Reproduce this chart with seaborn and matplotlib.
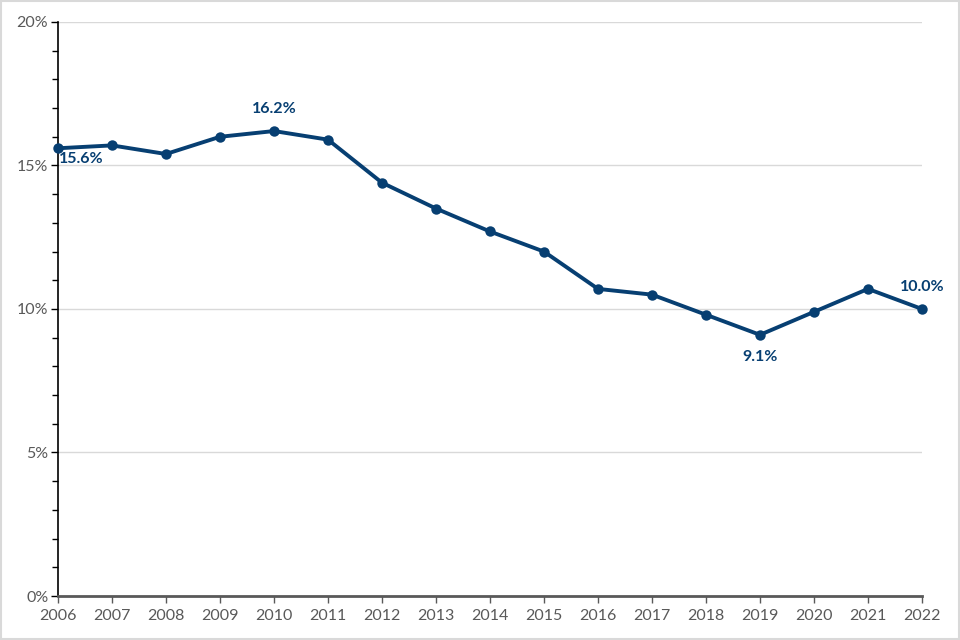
import matplotlib
matplotlib.use("Agg")
import matplotlib.pyplot as plt
import pandas as pd
import seaborn as sns
from matplotlib.patches import Rectangle
from matplotlib.ticker import FuncFormatter, MultipleLocator

years = list(range(2006, 2023))
rates = [15.6, 15.7, 15.4, 16.0, 16.2, 15.9, 14.4, 13.5, 12.7, 12.0,
         10.7, 10.5, 9.8, 9.1, 9.9, 10.7, 10.0]
# (year, text, dx points, dy points, ha, va)
labels = [
    (2006, "15.6%", 1, -8, "left", "center"),
    (2010, "16.2%", 0, 11, "center", "bottom"),
    (2019, "9.1%", 0, -11, "center", "top"),
    (2022, "10.0%", 0, 11, "center", "bottom"),
]

line_color = "#073f72"
text_grey = "#595959"

sns.set_theme(style="white")
plt.rcParams["font.family"] = ["Lato", "DejaVu Sans"]

df = pd.DataFrame({"year": years, "rate": rates})

fig = plt.figure(figsize=(9.6, 6.4), dpi=100)
ax = fig.add_axes([0.0604, 0.06875, 0.9, 0.8969])

sns.lineplot(data=df, x="year", y="rate", color=line_color, linewidth=2.8,
             marker="o", markersize=7.5, markeredgewidth=0, ax=ax, zorder=3,
             clip_on=False)

ax.set_xlim(2006, 2022)
ax.set_ylim(0, 20)
ax.set_xticks(years)
ax.set_xticklabels([str(y) for y in years])
ax.yaxis.set_major_locator(MultipleLocator(5))
ax.yaxis.set_minor_locator(MultipleLocator(1))
ax.yaxis.set_major_formatter(FuncFormatter(lambda v, p: f"{v:.0f}%"))
ax.grid(axis="y", which="major", color="#d9d9d9", linewidth=1)
ax.set_axisbelow(True)
ax.set_xlabel("")
ax.set_ylabel("")

for s in ["top", "right"]:
    ax.spines[s].set_visible(False)
ax.spines["left"].set_color("black")
ax.spines["left"].set_linewidth(1.2)
ax.spines["bottom"].set_color("#595959")
ax.spines["bottom"].set_linewidth(2)

ax.tick_params(axis="y", which="major", direction="out", length=5, width=1,
               color="black", labelsize=11.5, labelcolor=text_grey, pad=2, left=True)
ax.tick_params(axis="y", which="minor", direction="out", length=4, width=1,
               color="black", left=True)
ax.tick_params(axis="x", direction="out", length=5, width=1, color="#595959",
               labelsize=11.5, labelcolor=text_grey, pad=4, bottom=True)

for yr, txt, dx, dy, ha, va in labels:
    val = rates[years.index(yr)]
    ax.annotate(txt, (yr, val), xytext=(dx, dy), textcoords="offset points",
                ha=ha, va=va, fontsize=11.5, fontweight="bold", color=line_color)

fig.patches.append(Rectangle((0.001, 0.0015), 0.998, 0.997, transform=fig.transFigure,
                             fill=False, edgecolor="#d9d9d9", linewidth=1.5))

fig.savefig("out.png", dpi=100)
